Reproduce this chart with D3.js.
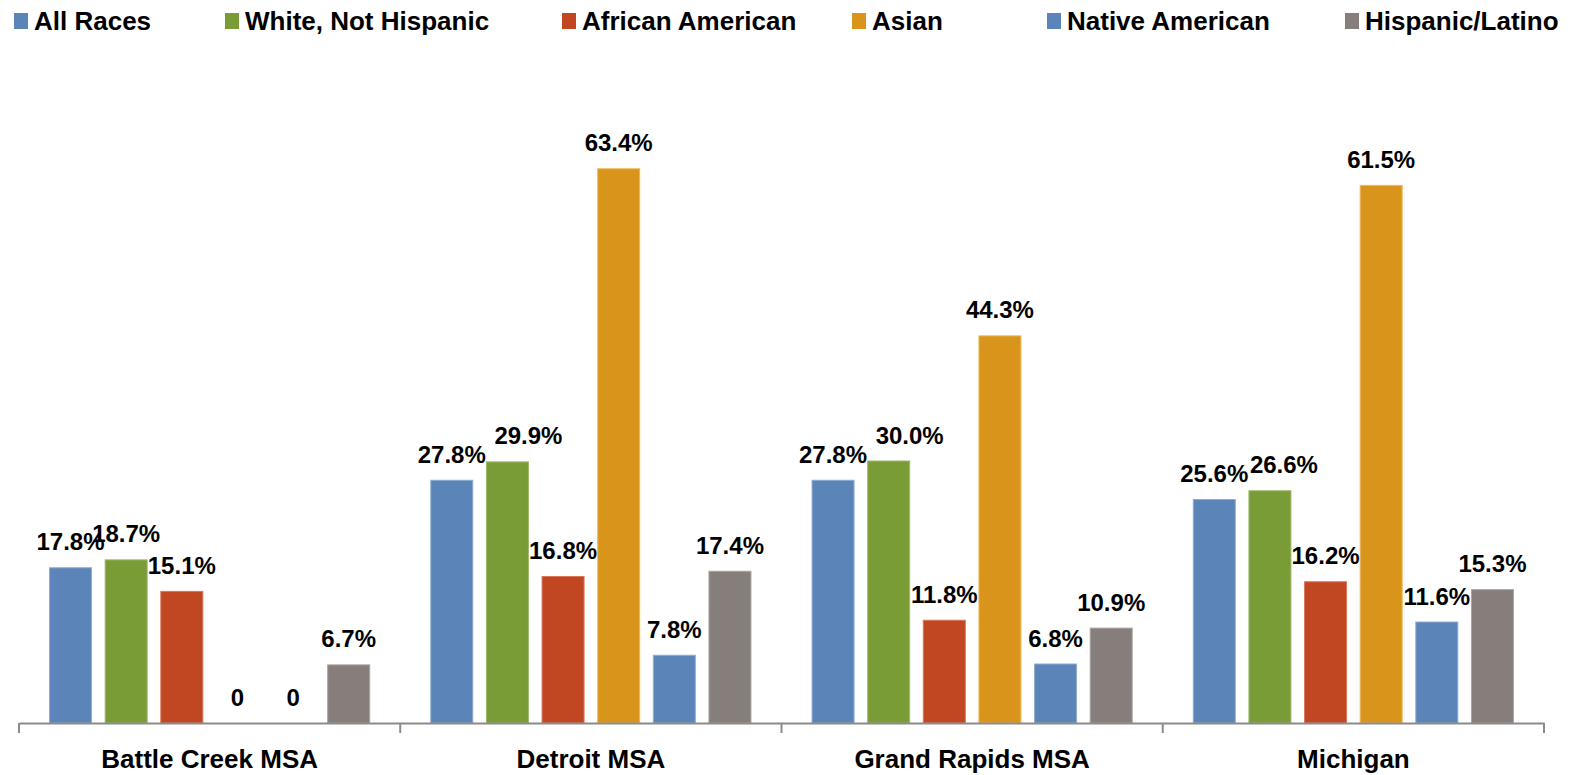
<!DOCTYPE html>
<html>
<head>
<meta charset="utf-8">
<script src="https://cdn.jsdelivr.net/npm/d3@7"></script>
<style>
  html, body { margin: 0; padding: 0; background: #fff; }
  svg { display: block; }
  text { font-family: "Liberation Sans", Arial, sans-serif; font-weight: bold; fill: #000; }
</style>
</head>
<body>
<svg id="chart" width="1586" height="775"></svg>
<script>
// Regions along the x axis
const regions = ["Battle Creek MSA", "Detroit MSA", "Grand Rapids MSA", "Michigan"];

// Series (one per race / ethnicity group)
const seriesNames = ["All Races", "White, Not Hispanic", "African American", "Asian", "Native American", "Hispanic/Latino"];
const seriesColors = ["#5B84B8", "#799C37", "#C14622", "#D9951B", "#5B84B8", "#867E7B"];
const seriesStroke = ["#8FAED3", "#9DB86A", "#D9765A", "#EDB957", "#8FAED3", "#AAA4A1"];

// Percent values per series, in region order
const allRaces        = [17.8, 27.8, 27.8, 25.6];
const whiteNotHisp    = [18.7, 29.9, 30.0, 26.6];
const africanAmerican = [15.1, 16.8, 11.8, 16.2];
const asian           = [0, 63.4, 44.3, 61.5];
const nativeAmerican  = [0, 7.8, 6.8, 11.6];
const hispanicLatino  = [6.7, 17.4, 10.9, 15.3];

const seriesValues = [allRaces, whiteNotHisp, africanAmerican, asian, nativeAmerican, hispanicLatino];

// Horizontal nudges for crowded value labels ("region|series index" -> px)
const labelNudge = { "Detroit MSA|1": 21, "Grand Rapids MSA|1": 21, "Michigan|1": 14 };

const svg = d3.select("#chart");

const x0 = d3.scaleBand().domain(regions).range([19, 1544]).padding(0);
const x1 = d3.scaleBand().domain(d3.range(seriesNames.length))
  .range([0, x0.bandwidth()]).paddingInner(0.227).paddingOuter(0.54);
const y = d3.scaleLinear().domain([0, 70]).range([723, 110.5]);

// Bars and value labels
const groups = svg.append("g").selectAll("g")
  .data(regions)
  .join("g")
  .attr("transform", d => `translate(${x0(d)},0)`);

groups.each(function(region, ri) {
  const g = d3.select(this);
  const rows = seriesNames.map((name, si) => ({ si, value: seriesValues[si][ri] }));
  g.selectAll("rect")
    .data(rows.filter(r => r.value > 0))
    .join("rect")
    .attr("x", r => x1(r.si) + 0.5)
    .attr("y", r => y(r.value) + 0.5)
    .attr("width", x1.bandwidth() - 1)
    .attr("height", r => y(0) - y(r.value) - 0.5)
    .attr("fill", r => seriesColors[r.si])
    .attr("stroke", r => seriesStroke[r.si])
    .attr("stroke-width", 1);
  g.selectAll("text")
    .data(rows)
    .join("text")
    .attr("x", r => x1(r.si) + x1.bandwidth() / 2 + (labelNudge[region + "|" + r.si] || 0))
    .attr("y", r => y(r.value) - 17)
    .attr("text-anchor", "middle")
    .style("font-size", "24px")
    .text(r => r.value === 0 ? "0" : r.value.toFixed(1) + "%");
});

// Category axis
const axis = d3.axisBottom(x0).tickSize(0).tickPadding(0);
const axisG = svg.append("g").attr("transform", `translate(0,${y(0)})`).call(axis);
axisG.select(".domain").attr("stroke", "#8A8A8A").attr("stroke-width", 2);
axisG.selectAll(".tick text")
  .attr("y", 45)
  .attr("dy", null)
  .style("font-size", "26px")
  .style("font-family", "'Liberation Sans', Arial, sans-serif")
  .style("font-weight", "bold")
  .attr("fill", "#000");

// Boundary tick marks between regions
const boundaries = regions.map(r => x0(r)).concat([x0.range()[1]]);
svg.append("g").selectAll("line")
  .data(boundaries)
  .join("line")
  .attr("x1", d => d).attr("x2", d => d)
  .attr("y1", y(0)).attr("y2", y(0) + 10)
  .attr("stroke", "#8A8A8A").attr("stroke-width", 2);

// Legend
const legendX = [14, 225, 562, 852, 1047, 1345];
const legend = svg.append("g").selectAll("g")
  .data(seriesNames)
  .join("g")
  .attr("transform", (d, i) => `translate(${legendX[i]},0)`);
legend.append("rect")
  .attr("x", 0).attr("y", 13).attr("width", 14).attr("height", 16)
  .attr("fill", (d, i) => seriesColors[i]);
legend.append("text")
  .attr("x", 20).attr("y", 30)
  .style("font-size", "26px")
  .text(d => d);
</script>
</body>
</html>
